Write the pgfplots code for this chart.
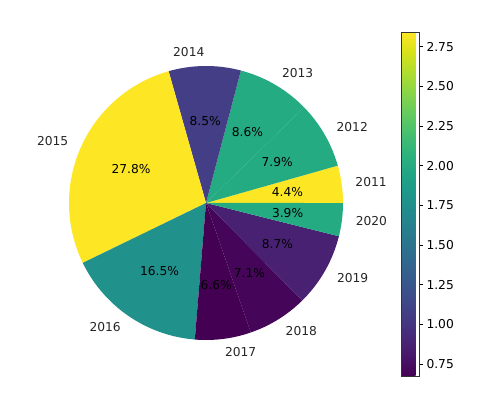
\documentclass[border=0pt]{standalone}
\usepackage{pgfplots}
\pgfplotsset{compat=1.18}
\usepackage{fontspec}
\setmainfont{DejaVu Sans}
\definecolor{cA}{HTML}{FDE725}% 2011, 2015
\definecolor{cB}{HTML}{25AB82}% 2012, 2013, 2020
\definecolor{cC}{HTML}{433E85}% 2014
\definecolor{cD}{HTML}{21918C}% 2016
\definecolor{cE}{HTML}{440154}% 2017
\definecolor{cF}{HTML}{450559}% 2018
\definecolor{cG}{HTML}{482173}% 2019
% wedge: start angle, end angle, colour, year, percent
\newcommand{\wedgeplot}[5]{%
  \addplot[fill=#3, draw=none, domain=#1:#2, samples=60, variable=\t]
    ({cos(\t)},{sin(\t)}) -- (axis cs:0,0) -- cycle;
}
\newcommand{\wedgelabels}[5]{%
  \pgfmathsetmacro{\mid}{(#1+#2)/2}%
  \pgfmathsetmacro{\lx}{1.1*cos(\mid)}%
  \pgfmathsetmacro{\ly}{1.1*sin(\mid)}%
  \pgfmathsetmacro{\px}{0.6*cos(\mid)}%
  \pgfmathsetmacro{\py}{0.6*sin(\mid)}%
  \pgfmathparse{\lx>0 ? 1 : 0}%
  \ifnum\pgfmathresult=1 \def\anc{west}\else\def\anc{east}\fi
  \edef\tmp{\noexpand\node[anchor=\anc, inner sep=0pt, text=black!85] at (axis cs:\lx,\ly) {#4};
    \noexpand\node[inner sep=0pt] at (axis cs:\px,\py) {#5\noexpand\%};}%
  \tmp
}
\begin{document}
\begin{tikzpicture}[font=\fontsize{12.3}{14}\selectfont]
\useasboundingbox (0,0) rectangle (500bp,396bp);
\begin{axis}[
  at={(34bp,20bp)}, anchor=south west,
  scale only axis, width=344bp, height=344bp,
  xmin=-1.2555, xmax=1.2555, ymin=-1.2628, ymax=1.2482,
  hide axis, clip=false,
  colorbar,
  colormap/viridis,
  point meta min=0.674, point meta max=2.843,
  colorbar style={
    at={(parent axis.north east)}, anchor=north west, xshift=15bp,
    width=18bp,
    ytick={0.75,1.00,1.25,1.50,1.75,2.00,2.25,2.50,2.75},
    ytick pos=right,
    yticklabel style={/pgf/number format/.cd, fixed, fixed zerofill, precision=2, assume math mode=true},
    yticklabel={\pgfmathprintnumber{\tick}},
    tick align=outside, major tick length=3.5bp,
    every tick/.style={black, line width=0.6bp},
    axis line style={black!80, line width=0.6bp},
    font=\fontsize{12.3}{14}\selectfont,
  },
]
\wedgeplot{0}{15.84}{cA}{2011}{4.4}
\wedgeplot{15.84}{44.28}{cB}{2012}{7.9}
\wedgeplot{44.28}{75.24}{cB}{2013}{8.6}
\wedgeplot{75.24}{105.84}{cC}{2014}{8.5}
\wedgeplot{105.84}{205.92}{cA}{2015}{27.8}
\wedgeplot{205.92}{265.32}{cD}{2016}{16.5}
\wedgeplot{265.32}{289.08}{cE}{2017}{6.6}
\wedgeplot{289.08}{314.64}{cF}{2018}{7.1}
\wedgeplot{314.64}{345.96}{cG}{2019}{8.7}
\wedgeplot{345.96}{360}{cB}{2020}{3.9}
\wedgelabels{0}{15.84}{cA}{2011}{4.4}
\wedgelabels{15.84}{44.28}{cB}{2012}{7.9}
\wedgelabels{44.28}{75.24}{cB}{2013}{8.6}
\wedgelabels{75.24}{105.84}{cC}{2014}{8.5}
\wedgelabels{105.84}{205.92}{cA}{2015}{27.8}
\wedgelabels{205.92}{265.32}{cD}{2016}{16.5}
\wedgelabels{265.32}{289.08}{cE}{2017}{6.6}
\wedgelabels{289.08}{314.64}{cF}{2018}{7.1}
\wedgelabels{314.64}{345.96}{cG}{2019}{8.7}
\wedgelabels{345.96}{360}{cB}{2020}{3.9}
\end{axis}
\end{tikzpicture}
\end{document}
